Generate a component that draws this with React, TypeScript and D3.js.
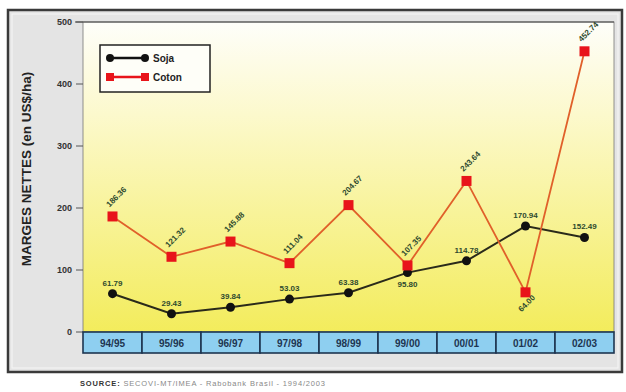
import React from "react";
import * as d3 from "d3";

const categories = ["94/95", "95/96", "96/97", "97/98", "98/99", "99/00", "00/01", "01/02", "02/03"];
const sojaValues = [61.79, 29.43, 39.84, 53.03, 63.38, 95.8, 114.78, 170.94, 152.49];
const cotonValues = [186.36, 121.32, 145.88, 111.04, 204.67, 107.35, 243.64, 64.0, 452.74];
const yTicks = [0, 100, 200, 300, 400, 500];
const seriesNames = ["Soja", "Coton"];
const yTitle = "MARGES NETTES (en US$/ha)";
const sourceBold = "SOURCE:";
const sourceText = " SECOVI-MT/IMEA - Rabobank Brasil - 1994/2003";

const W = 626, H = 392;
const plotL = 83, plotR = 614, plotT = 22, plotB = 332;

export default function App() {
  const x = d3.scaleBand<string>().domain(categories).range([plotL, plotR]).padding(0);
  const y = d3.scaleLinear().domain([0, 500]).range([plotB, plotT]);
  const cx = (c: string) => (x(c) as number) + x.bandwidth() / 2;
  const line = d3.line<number>().x((_, i) => cx(categories[i])).y((v) => y(v));
  const fmt = (v: number) => v.toFixed(2);
  const labelColor = "#2e4a2e";

  return (
    <svg width={W} height={H} style={{ position: "absolute", left: 0, top: 0, background: "#fff" }}
      fontFamily="'Liberation Sans', Arial, sans-serif">
      <defs>
        <linearGradient id="bg" x1="0" y1="0" x2="0" y2="1">
          <stop offset="0" stopColor="#fefefa" />
          <stop offset="0.3" stopColor="#fcf9cc" />
          <stop offset="1" stopColor="#f3ec5c" />
        </linearGradient>
      </defs>
      {/* outer frame */}
      <rect x={8} y={10} width={614} height={362} fill="#e4e4e4" stroke="#3a3a3a" strokeWidth={2.5} />
      <rect x={12} y={14} width={606} height={354} fill="none" stroke="#f6f6f6" strokeWidth={1} />
      {/* plot area */}
      <rect x={plotL} y={plotT} width={plotR - plotL} height={plotB - plotT} fill="url(#bg)" stroke="#777" strokeWidth={0.8} />
      <line x1={75} x2={plotR} y1={plotT} y2={plotT} stroke="#444" strokeWidth={1.2} />
      {/* y axis */}
      {yTicks.map((t) => (
        <g key={t}>
          <line x1={76} x2={plotL} y1={y(t)} y2={y(t)} stroke="#555" strokeWidth={1} />
          <text x={72} y={y(t) + 3} textAnchor="end" fontSize={9} fontWeight="bold" fill="#333">{t}</text>
        </g>
      ))}
      <text transform={`translate(31,169) rotate(-90)`} textAnchor="middle" fontSize={13.5}
        fontWeight="bold" fill="#222">{yTitle}</text>
      {/* category band */}
      {categories.map((c) => (
        <g key={c}>
          <rect x={x(c) as number} y={plotB} width={x.bandwidth()} height={21} fill="#8ecff0" stroke="#1d3550" strokeWidth={1.6} />
          <text x={cx(c)} y={plotB + 14.5} textAnchor="middle" fontSize={10} fontWeight="bold" fill="#1d3550">{c}</text>
        </g>
      ))}
      {/* lines */}
      <path d={line(sojaValues) as string} fill="none" stroke="#2a2a1a" strokeWidth={2} />
      <path d={line(cotonValues) as string} fill="none" stroke="#e0602a" strokeWidth={1.8} />
      {sojaValues.map((v, i) => (
        <circle key={"s" + i} cx={cx(categories[i])} cy={y(v)} r={4.5} fill="#111" />
      ))}
      {cotonValues.map((v, i) => (
        <rect key={"c" + i} x={cx(categories[i]) - 5} y={y(v) - 5} width={10} height={10} fill="#e8141a" />
      ))}
      {/* labels */}
      {sojaValues.map((v, i) => {
        const below = i === 5;
        return (
          <text key={"sl" + i} x={cx(categories[i])} y={below ? y(v) + 14 : y(v) - 8} textAnchor="middle"
            fontSize={8} fontWeight="bold" fill={labelColor}>{fmt(v)}</text>
        );
      })}
      {cotonValues.map((v, i) => {
        const below = i === 7;
        const px = cx(categories[i]);
        const py = y(v);
        const ax = below ? px - 4 : px - 3;
        const ay = below ? py + 20 : py - 9;
        return (
          <text key={"cl" + i} transform={`translate(${ax},${ay}) rotate(-45)`} textAnchor="start"
            fontSize={8} fontWeight="bold" fill={labelColor}>{fmt(v)}</text>
        );
      })}
      {/* legend */}
      <rect x={100} y={45} width={110} height={47} fill="#fefef8" stroke="#222" strokeWidth={1.5} />
      <line x1={110} x2={145} y1={58} y2={58} stroke="#111" strokeWidth={2.5} />
      <circle cx={110} cy={58} r={4} fill="#111" />
      <circle cx={145} cy={58} r={4} fill="#111" />
      <text x={153} y={61.5} fontSize={10} fontWeight="bold" fill="#222">{seriesNames[0]}</text>
      <line x1={110} x2={145} y1={77} y2={77} stroke="#e8141a" strokeWidth={2.5} />
      <rect x={106} y={73} width={8} height={8} fill="#e8141a" />
      <rect x={141} y={73} width={8} height={8} fill="#e8141a" />
      <text x={153} y={80.5} fontSize={10} fontWeight="bold" fill="#222">{seriesNames[1]}</text>
      {/* source */}
      <text x={80} y={386} fontSize={7.5} fill="#888" textLength={245} lengthAdjust="spacing">
        <tspan fontWeight="bold" fill="#333">{sourceBold}</tspan>
        <tspan>{sourceText}</tspan>
      </text>
    </svg>
  );
}
